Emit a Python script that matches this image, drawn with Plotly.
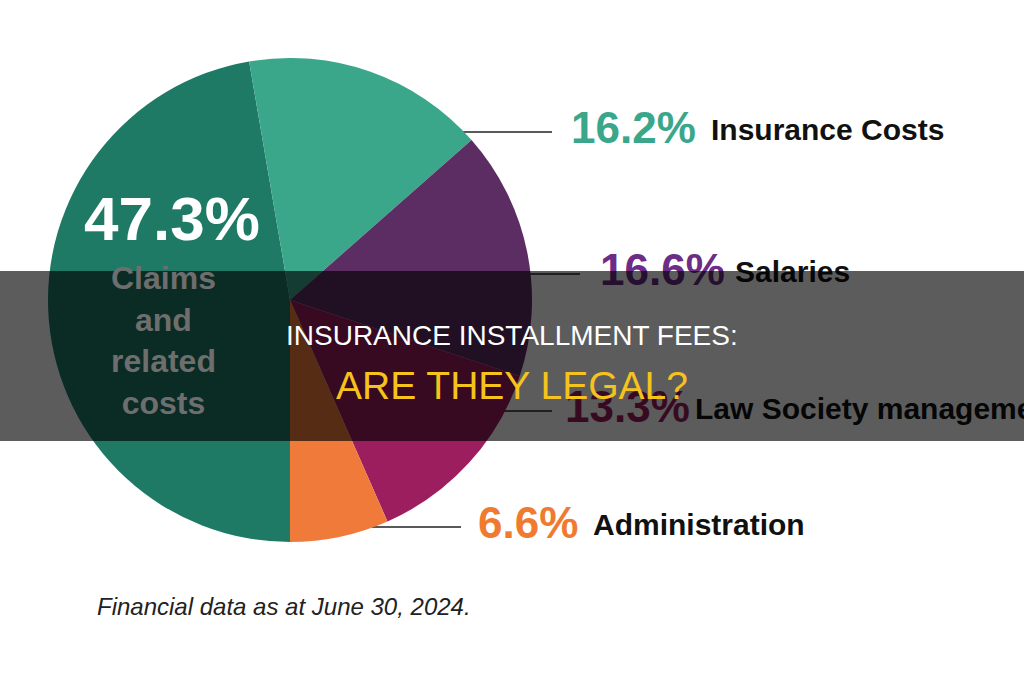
import math
import plotly.graph_objects as go

W, H = 1024, 680

# ---- data ----
categories = ["Claims and related costs", "Insurance Costs", "Salaries",
              "Law Society management", "Administration"]
shares = [47.3, 16.2, 16.6, 13.3, 6.6]
slice_colors = ["#1e7a65", "#3aa68a", "#5c2d63", "#9c1e5e", "#ef7a3a"]

side_names = ["Insurance Costs", "Salaries", "Law Society management", "Administration"]
side_shares = [16.2, 16.6, 13.3, 6.6]
side_pct_colors = ["#3aa68a", "#6d2c88", "#9c1e5e", "#ef7a30"]

title_line1 = "INSURANCE INSTALLMENT FEES:"
title_line2 = "ARE THEY LEGAL?"
footnote = "Financial data as at June 30, 2024."

# ---- layout helpers (pixels) ----
cx, cy, r = 290, 300, 242
label_y = [132, 274, 411, 527]
line_end_x = [552, 580, 552, 461]
pct_x = [571, 600, 565, 478]
name_x = [711, 735, 695, 593]

SANS = "Liberation Sans, Arial, sans-serif"

fig = go.Figure()

# pie
fig.add_trace(go.Pie(
    labels=categories, values=shares, sort=False, direction="clockwise",
    rotation=180, textinfo="none", hoverinfo="label+percent",
    marker=dict(colors=slice_colors, line=dict(width=0)),
    domain=dict(x=[(cx - r) / W, (cx + r) / W], y=[1 - (cy + r) / H, 1 - (cy - r) / H]),
    showlegend=False,
))

# leader lines
for y, xe in zip(label_y, line_end_x):
    xs = cx + math.sqrt(max(r * r - (y - cy) ** 2, 0))
    fig.add_trace(go.Scatter(x=[xs - 2, xe], y=[y, y], mode="lines",
                             line=dict(color="#222222", width=1.6),
                             hoverinfo="skip", showlegend=False))

# percentage labels
fig.add_trace(go.Scatter(
    x=pct_x, y=label_y, mode="text",
    text=[f"<b>{v:.1f}%</b>" for v in side_shares],
    textposition="middle right",
    textfont=dict(family=SANS, size=44, color=side_pct_colors),
    hoverinfo="skip", showlegend=False))

# category labels
fig.add_trace(go.Scatter(
    x=name_x, y=label_y, mode="text",
    text=[f"<b>{n}</b>" for n in side_names],
    textposition="middle right",
    textfont=dict(family=SANS, size=30, color="#111111"),
    hoverinfo="skip", showlegend=False))

fig.update_xaxes(range=[0, W], visible=False, fixedrange=True, domain=[0, 1])
fig.update_yaxes(range=[H, 0], visible=False, fixedrange=True, domain=[0, 1])

# dark overlay band
band_top, band_bot = 271, 441
fig.add_shape(type="rect", xref="paper", yref="paper", x0=0, x1=1,
              y0=1 - band_bot / H, y1=1 - band_top / H,
              fillcolor="rgba(0,0,0,0.64)", line=dict(width=0), layer="above")

P = dict(xref="paper", yref="paper", showarrow=False)
annotations = [
    dict(x=172 / W, y=1 - 219 / H, text="<b>47.3%</b>",
         xanchor="center", yanchor="middle",
         font=dict(family=SANS, size=62, color="white"), **P),
    dict(x=163 / W, y=1 - 340 / H, text="<b>Claims<br>and<br>related<br>costs</b>",
         xanchor="center", yanchor="middle", align="center",
         font=dict(family=SANS, size=32, color="#6e6e6e"), **P),
    dict(x=0.5, y=1 - 335 / H, text=title_line1,
         xanchor="center", yanchor="middle",
         font=dict(family=SANS, size=28, color="white"), **P),
    dict(x=0.5, y=1 - 385 / H, text=title_line2,
         xanchor="center", yanchor="middle",
         font=dict(family=SANS, size=39, color="#f6c21c"), **P),
    dict(x=95 / W, y=1 - 606 / H, text=f"<i>{footnote}</i>",
         xanchor="left", yanchor="middle",
         font=dict(family=SANS, size=24, color="#222222"), **P),
]

fig.update_layout(
    width=W, height=H, margin=dict(l=0, r=0, t=0, b=0),
    paper_bgcolor="white", plot_bgcolor="rgba(0,0,0,0)",
    annotations=annotations, showlegend=False,
)

fig.write_html("out.html")
